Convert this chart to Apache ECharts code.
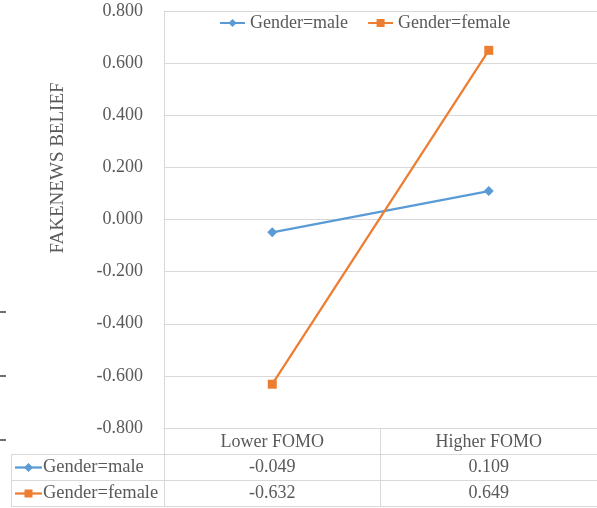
<!DOCTYPE html>
<html>
<head>
<meta charset="utf-8">
<script src="https://cdn.jsdelivr.net/npm/echarts@6/dist/echarts.min.js"></script>
<style>
  html, body { margin: 0; padding: 0; background: #fff; }
  #chart { width: 597px; height: 508px; }
</style>
</head>
<body>
<div id="chart"></div>
<script>
// FOMO level by gender: estimated FAKENEWS BELIEF
const categories = ['Lower FOMO', 'Higher FOMO'];
const seriesNames = ['Gender=male', 'Gender=female'];
const maleValues = [-0.049, 0.109];
const femaleValues = [-0.632, 0.649];
const yMin = -0.8, yMax = 0.8, yStep = 0.2;
const yTitle = 'FAKENEWS BELIEF';

const FONT = 'Liberation Serif';
const TEXT = '#595959';
const RULE = '#d9d9d9';
const COLORS = ['#5B9BD5', '#ED7D31'];
const SYMBOLS = ['diamond', 'rect'];
const SYMBOL_SIZES = [10, 9];

const chart = echarts.init(document.getElementById('chart'), null, { renderer: 'canvas' });

const tableTop = 454, rowH = 26, tableLeft = 11, tableRight = 597;

chart.setOption({
  animation: false,
  backgroundColor: '#ffffff',
  textStyle: { fontFamily: FONT },
  color: COLORS,
  grid: { left: 164, right: -1, top: 11, bottom: 80 },
  legend: {
    top: 9,
    left: 214,
    itemWidth: 25,
    itemHeight: 10,
    itemGap: 19,
    textStyle: { fontFamily: FONT, fontSize: 18, color: TEXT },
    data: seriesNames
  },
  xAxis: {
    type: 'category',
    data: categories,
    boundaryGap: true,
    axisLine: { show: true, onZero: false, lineStyle: { color: RULE, width: 1 } },
    axisTick: { show: true, length: 78, lineStyle: { color: RULE, width: 1 } },
    axisLabel: { margin: 5, fontFamily: FONT, fontSize: 18, color: TEXT },
    splitLine: { show: false }
  },
  yAxis: {
    type: 'value',
    min: yMin,
    max: yMax,
    interval: yStep,
    axisLine: { show: true, lineStyle: { color: RULE, width: 1 } },
    axisTick: { show: false },
    axisLabel: {
      margin: 21,
      fontFamily: FONT,
      fontSize: 18,
      color: TEXT,
      formatter: v => v.toFixed(3)
    },
    splitLine: { show: true, lineStyle: { color: RULE, width: 1 } }
  },
  series: [
    {
      name: seriesNames[0], type: 'line', data: maleValues,
      symbol: SYMBOLS[0], symbolSize: SYMBOL_SIZES[0],
      lineStyle: { width: 2.25, color: COLORS[0] },
      itemStyle: { color: COLORS[0] }
    },
    {
      name: seriesNames[1], type: 'line', data: femaleValues,
      symbol: SYMBOLS[1], symbolSize: SYMBOL_SIZES[1],
      lineStyle: { width: 2.25, color: COLORS[1] },
      itemStyle: { color: COLORS[1] }
    }
  ]
});

// Data table under the category axis, plus the vertical axis title
const rows = [maleValues, femaleValues];
const elements = [];

elements.push({
  type: 'text', x: 58, y: 168, rotation: Math.PI / 2,
  style: { text: yTitle, fontFamily: FONT, fontSize: 19, fill: TEXT, align: 'center', verticalAlign: 'middle' }
});

// horizontal rules of the table
[tableTop, tableTop + rowH, tableTop + rowH * 2].forEach(y => {
  elements.push({
    type: 'line', shape: { x1: tableLeft, y1: y + 0.5, x2: tableRight, y2: y + 0.5 },
    style: { stroke: RULE, lineWidth: 1 }
  });
});
elements.push({
  type: 'line', shape: { x1: tableLeft + 0.5, y1: tableTop, x2: tableLeft + 0.5, y2: tableTop + rowH * 2 },
  style: { stroke: RULE, lineWidth: 1 }
});

// stray short marks on the left margin
[312, 376, 440].forEach(y => {
  elements.push({
    type: 'line', shape: { x1: 0, y1: y, x2: 6, y2: y },
    style: { stroke: '#404040', lineWidth: 1.5 }
  });
});

rows.forEach((vals, r) => {
  const cy = tableTop + rowH * r + rowH / 2 + 0.5;
  // legend key: line with the series' marker
  elements.push({
    type: 'line', shape: { x1: 15, y1: cy, x2: 42, y2: cy },
    style: { stroke: COLORS[r], lineWidth: 2.25 }
  });
  if (SYMBOLS[r] === 'diamond') {
    elements.push({
      type: 'polygon', shape: { points: [[28.5, cy - 4.5], [33, cy], [28.5, cy + 4.5], [24, cy]] },
      style: { fill: COLORS[r] }
    });
  } else {
    elements.push({
      type: 'rect', shape: { x: 24.5, y: cy - 4, width: 8, height: 8 },
      style: { fill: COLORS[r] }
    });
  }
  elements.push({
    type: 'text', x: 43, y: cy,
    style: { text: seriesNames[r], fontFamily: FONT, fontSize: 18.5, fill: TEXT, align: 'left', verticalAlign: 'middle' }
  });
  vals.forEach((v, i) => {
    const px = chart.convertToPixel({ gridIndex: 0 }, [i, 0])[0];
    elements.push({
      type: 'text', x: px, y: cy,
      style: { text: v.toFixed(3), fontFamily: FONT, fontSize: 18, fill: TEXT, align: 'center', verticalAlign: 'middle' }
    });
  });
});

chart.setOption({ graphic: { elements: elements } });
</script>
</body>
</html>
